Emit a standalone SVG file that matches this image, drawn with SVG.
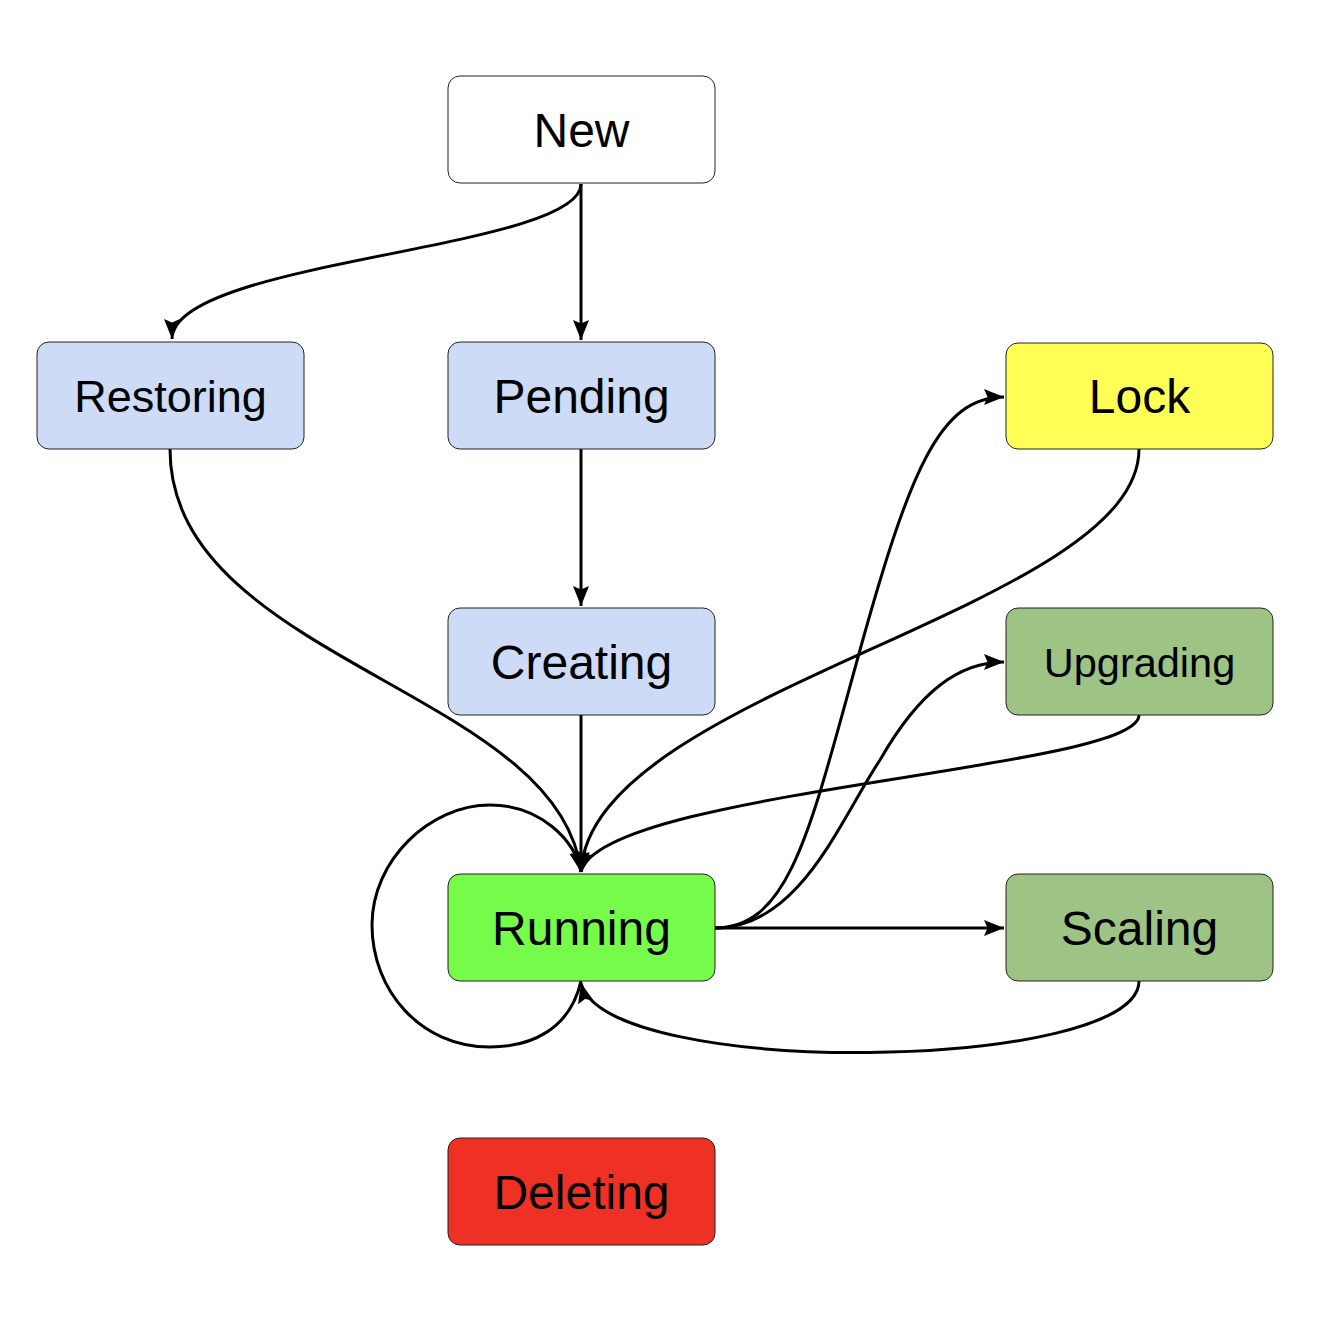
<svg xmlns="http://www.w3.org/2000/svg" width="1329" height="1320" viewBox="0 0 1329 1320">
<style>
.n rect{stroke:#222;stroke-width:1}
.n text{font-family:"Liberation Sans",Arial,sans-serif;font-size:48px;fill:#000;text-anchor:middle}
.e path{fill:none;stroke:#000;stroke-width:3}
</style>
<defs>
<marker id="arr" markerUnits="userSpaceOnUse" markerWidth="22" markerHeight="18" viewBox="0 0 22 18" refX="20" refY="9" orient="auto">
<path d="M0,1 L20,9 L0,17 L3.5,9 z" fill="#000" stroke="none"/>
</marker>
</defs>
<rect width="1329" height="1320" fill="#fff"/>
<g class="e">
<path d="M581,184 C581,250 172,260 172,339" marker-end="url(#arr)"/>
<path d="M581,184 L581,340" marker-end="url(#arr)"/>
<path d="M581,449 L581,606" marker-end="url(#arr)"/>
<path d="M581,715 L581,872" marker-end="url(#arr)"/>
<path d="M170,449 C170,660 560,690 581,872" marker-end="url(#arr)"/>
<path d="M1139,449 C1139,610 590,690 581,872" marker-end="url(#arr)"/>
<path d="M1139,715 C1139,770 600,790 581,872" marker-end="url(#arr)"/>
<path d="M715,928 C790,928 810,830 860,650 C910,470 940,397 1004,397" marker-end="url(#arr)"/>
<path d="M715,928 C800,928 840,820 880,760 C920,690 960,662 1004,662" marker-end="url(#arr)"/>
<path d="M715,928 L1004,928" marker-end="url(#arr)"/>
<path d="M1139,981 C1139,1072 605,1080 581,983" marker-end="url(#arr)"/>
<path d="M581,981 C570,1030 530,1047 490,1047 C420,1047 372,990 372,925 C372,860 430,805 490,805 C540,805 575,840 581,872" marker-end="url(#arr)"/>
</g>
<g id="new" class="n"><rect x="448" y="76" width="267" height="107" rx="12" fill="#ffffff"/><text x="581.5" y="147">New</text></g>
<g id="restoring" class="n"><rect x="37" y="342" width="267" height="107" rx="12" fill="#cddbf6"/><text x="170.5" y="412" style="font-size:45px">Restoring</text></g>
<g id="pending" class="n"><rect x="448" y="342" width="267" height="107" rx="12" fill="#cddbf6"/><text x="581.5" y="413">Pending</text></g>
<g id="creating" class="n"><rect x="448" y="608" width="267" height="107" rx="12" fill="#cddbf6"/><text x="581.5" y="679">Creating</text></g>
<g id="running" class="n"><rect x="448" y="874" width="267" height="107" rx="12" fill="#76fb4a"/><text x="581.5" y="945">Running</text></g>
<g id="deleting" class="n"><rect x="448" y="1138" width="267" height="107" rx="12" fill="#ee3124"/><text x="581.5" y="1209">Deleting</text></g>
<g id="lock" class="n"><rect x="1006" y="343" width="267" height="106" rx="12" fill="#ffff55"/><text x="1139.5" y="413">Lock</text></g>
<g id="upgrading" class="n"><rect x="1006" y="608" width="267" height="107" rx="12" fill="#9dc385"/><text x="1139.5" y="677" style="font-size:41.5px">Upgrading</text></g>
<g id="scaling" class="n"><rect x="1006" y="874" width="267" height="107" rx="12" fill="#9dc385"/><text x="1139.5" y="945">Scaling</text></g>
</svg>
